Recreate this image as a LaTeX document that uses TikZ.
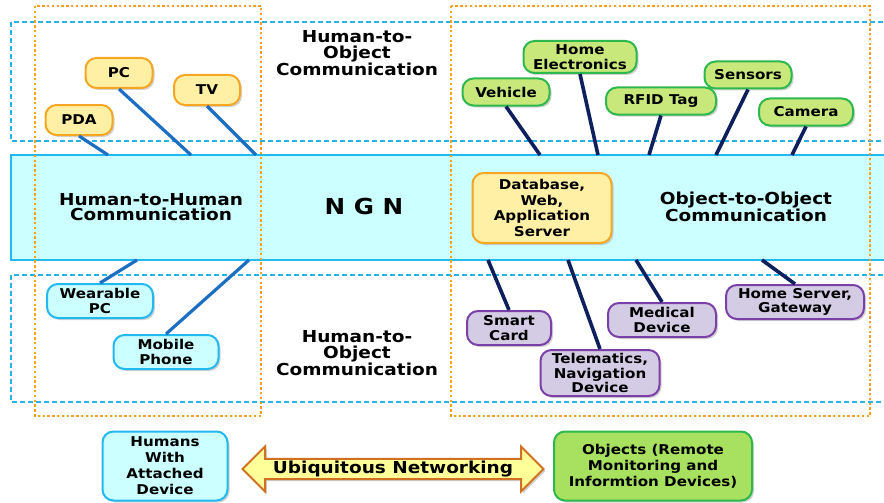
\documentclass[tikz,border=0pt]{standalone}
\usepackage{fontspec}
\setmainfont{DejaVu Sans}[FakeStretch=1.12]
\usepackage{xcolor}
\usepackage{tikz}
\usetikzlibrary{shapes.arrows,shadows}

\definecolor{bandfill}{HTML}{CCFFFF}
\definecolor{bandline}{HTML}{22B8F0}
\definecolor{zoneline}{HTML}{2AB2E6}
\definecolor{arealine}{HTML}{F5A020}
\definecolor{ylwfill}{HTML}{FFF0A6}
\definecolor{ylwline}{HTML}{F5A623}
\definecolor{grnfill}{HTML}{C8E87C}
\definecolor{grnline}{HTML}{2DB84D}
\definecolor{objfill}{HTML}{A8E060}
\definecolor{prpfill}{HTML}{D4CCE4}
\definecolor{prpline}{HTML}{7B40A8}
\definecolor{arwfill}{HTML}{FFFF99}
\definecolor{arwline}{HTML}{D07020}
\definecolor{humwire}{HTML}{1B6EC2}
\definecolor{objwire}{HTML}{0D1F5C}

\begin{document}
\begin{tikzpicture}[x=1pt, y=-1pt,
    dev/.style={draw, rounded corners=11pt, line width=2pt, align=center, inner sep=1pt,
      font=\fontsize{13.5}{14.5}\selectfont\bfseries,
      drop shadow={shadow xshift=2pt, shadow yshift=-2pt, fill=black!35}},
    ylwbox/.style={dev, fill=ylwfill, draw=ylwline},
    grnbox/.style={dev, fill=grnfill, draw=grnline},
    cynbox/.style={dev, fill=bandfill, draw=bandline},
    prpbox/.style={dev, fill=prpfill, draw=prpline},
    bigtext/.style={align=center, font=\fontsize{16.5}{15.5}\selectfont\bfseries},
    humlink/.style={humwire, line width=3.2pt},
    objlink/.style={objwire, line width=3.6pt}]
  \clip (0,0) rectangle (884,503);
  \useasboundingbox (0,0) rectangle (884,503);

  % NGN band and zones
  \draw [fill=bandfill, draw=bandline, line width=2.8pt] (11,155) rectangle (900,260);
  \draw [zoneline, line width=2.2pt, dash pattern=on 5pt off 3pt] (11,22) rectangle (900,141);
  \draw [zoneline, line width=2.2pt, dash pattern=on 5pt off 3pt] (11,275) rectangle (900,402);
  \draw [arealine, line width=2.8pt, dash pattern=on 2.4pt off 2.4pt] (35,6) rectangle (261,416);
  \draw [arealine, line width=2.8pt, dash pattern=on 2.4pt off 2.4pt] (451,6) rectangle (870,416);

  % Texts
  \node [bigtext] (htoo1) at (357,53) {Human-to-\\Object\\Communication};
  \node [bigtext] (htoh) at (151,207) {Human-to-Human\\Communication};
  \node [align=center, font=\fontsize{22}{22}\selectfont\bfseries] (ngn) at (364,206) {N G N};
  \node [bigtext] (otoo) at (746,207) {Object-to-Object\\Communication};
  \node [bigtext] (htoo2) at (357,353) {Human-to-\\Object\\Communication};

  % Link ends on the band
  \coordinate (pdaend) at (108,155);
  \coordinate (pcend) at (191,155);
  \coordinate (tvend) at (256,155);
  \coordinate (vehicleend) at (540,155);
  \coordinate (homeend) at (598,155);
  \coordinate (rfidend) at (649,155);
  \coordinate (sensorsend) at (716,155);
  \coordinate (cameraend) at (792,155);
  \coordinate (wearableend) at (137,260);
  \coordinate (mobileend) at (249,260);
  \coordinate (cardend) at (488,260);
  \coordinate (telemend) at (568,260);
  \coordinate (medicalend) at (636,260);
  \coordinate (gatewayend) at (762,260);

  % Nodes for humans
  \node [ylwbox, minimum width=67, minimum height=30] (pc) at (119,73) {PC};
  \node [ylwbox, minimum width=66, minimum height=30] (tv) at (207,90) {TV};
  \node [ylwbox, minimum width=67, minimum height=30] (pda) at (79,120) {PDA};
  \node [cynbox, minimum width=106, minimum height=34] (wearable) at (100,301) {Wearable\\PC};
  \node [cynbox, minimum width=105, minimum height=34] (mobile) at (166,352) {Mobile\\Phone};

  % Nodes for objects
  \node [grnbox, minimum width=87, minimum height=27] (vehicle) at (506,92) {Vehicle};
  \node [grnbox, minimum width=113, minimum height=32] (home) at (580,57) {Home\\Electronics};
  \node [grnbox, minimum width=110, minimum height=27] (rfid) at (661,101) {RFID Tag};
  \node [grnbox, minimum width=87, minimum height=27] (sensors) at (748,75) {Sensors};
  \node [grnbox, minimum width=94, minimum height=27] (camera) at (806,112) {Camera};
  \node [ylwbox, minimum width=139, minimum height=70, font=\fontsize{13.5}{15.5}\selectfont\bfseries] (server) at (542,208) {Database,\\Web,\\Application\\Server};
  \node [prpbox, minimum width=84, minimum height=34] (card) at (509,328) {Smart\\Card};
  \node [prpbox, minimum width=119, minimum height=46] (telem) at (600,373) {Telematics,\\Navigation\\Device};
  \node [prpbox, minimum width=108, minimum height=34] (medical) at (662,320) {Medical\\Device};
  \node [prpbox, minimum width=138, minimum height=34] (gateway) at (795,302) {Home Server,\\Gateway};

  % Nodes for the legend
  \node [cynbox, minimum width=125, minimum height=69, font=\fontsize{13.5}{16}\selectfont\bfseries] (humans) at (165,466) {Humans\\With\\Attached\\Device};
  \node [dev, fill=objfill, draw=grnline, minimum width=198, minimum height=69, font=\fontsize{13.5}{16}\selectfont\bfseries] (objects) at (653,466) {Objects (Remote\\Monitoring and\\Informtion Devices)};

  % Links for humans
  \draw [humlink] (pda.south) -- (pdaend);
  \draw [humlink] (pc.south) -- (pcend);
  \draw [humlink] (tv.south) -- (tvend);
  \draw [humlink] (wearable.north) -- (wearableend);
  \draw [humlink] (mobile.north) -- (mobileend);

  % Links for objects
  \draw [objlink] (vehicle.south) -- (vehicleend);
  \draw [objlink] (home.south) -- (homeend);
  \draw [objlink] (rfid.south) -- (rfidend);
  \draw [objlink] (sensors.south) -- (sensorsend);
  \draw [objlink] (camera.south) -- (cameraend);
  \draw [objlink] (card.north) -- (cardend);
  \draw [objlink] (telem.north) -- (telemend);
  \draw [objlink] (medical.north) -- (medicalend);
  \draw [objlink] (gateway.north) -- (gatewayend);

  % Ubiquitous networking arrow
  \node [double arrow, fill=arwfill, draw=arwline, line width=2pt,
    double arrow head extend=11pt, double arrow head indent=0pt,
    minimum height=301, minimum width=45, inner sep=0pt,
    font=\fontsize{16.5}{17}\selectfont\bfseries,
    drop shadow={shadow xshift=2pt, shadow yshift=-2pt, fill=black!35}]
    (ubiq) at (393,469) {Ubiquitous Networking};
\end{tikzpicture}
\end{document}
